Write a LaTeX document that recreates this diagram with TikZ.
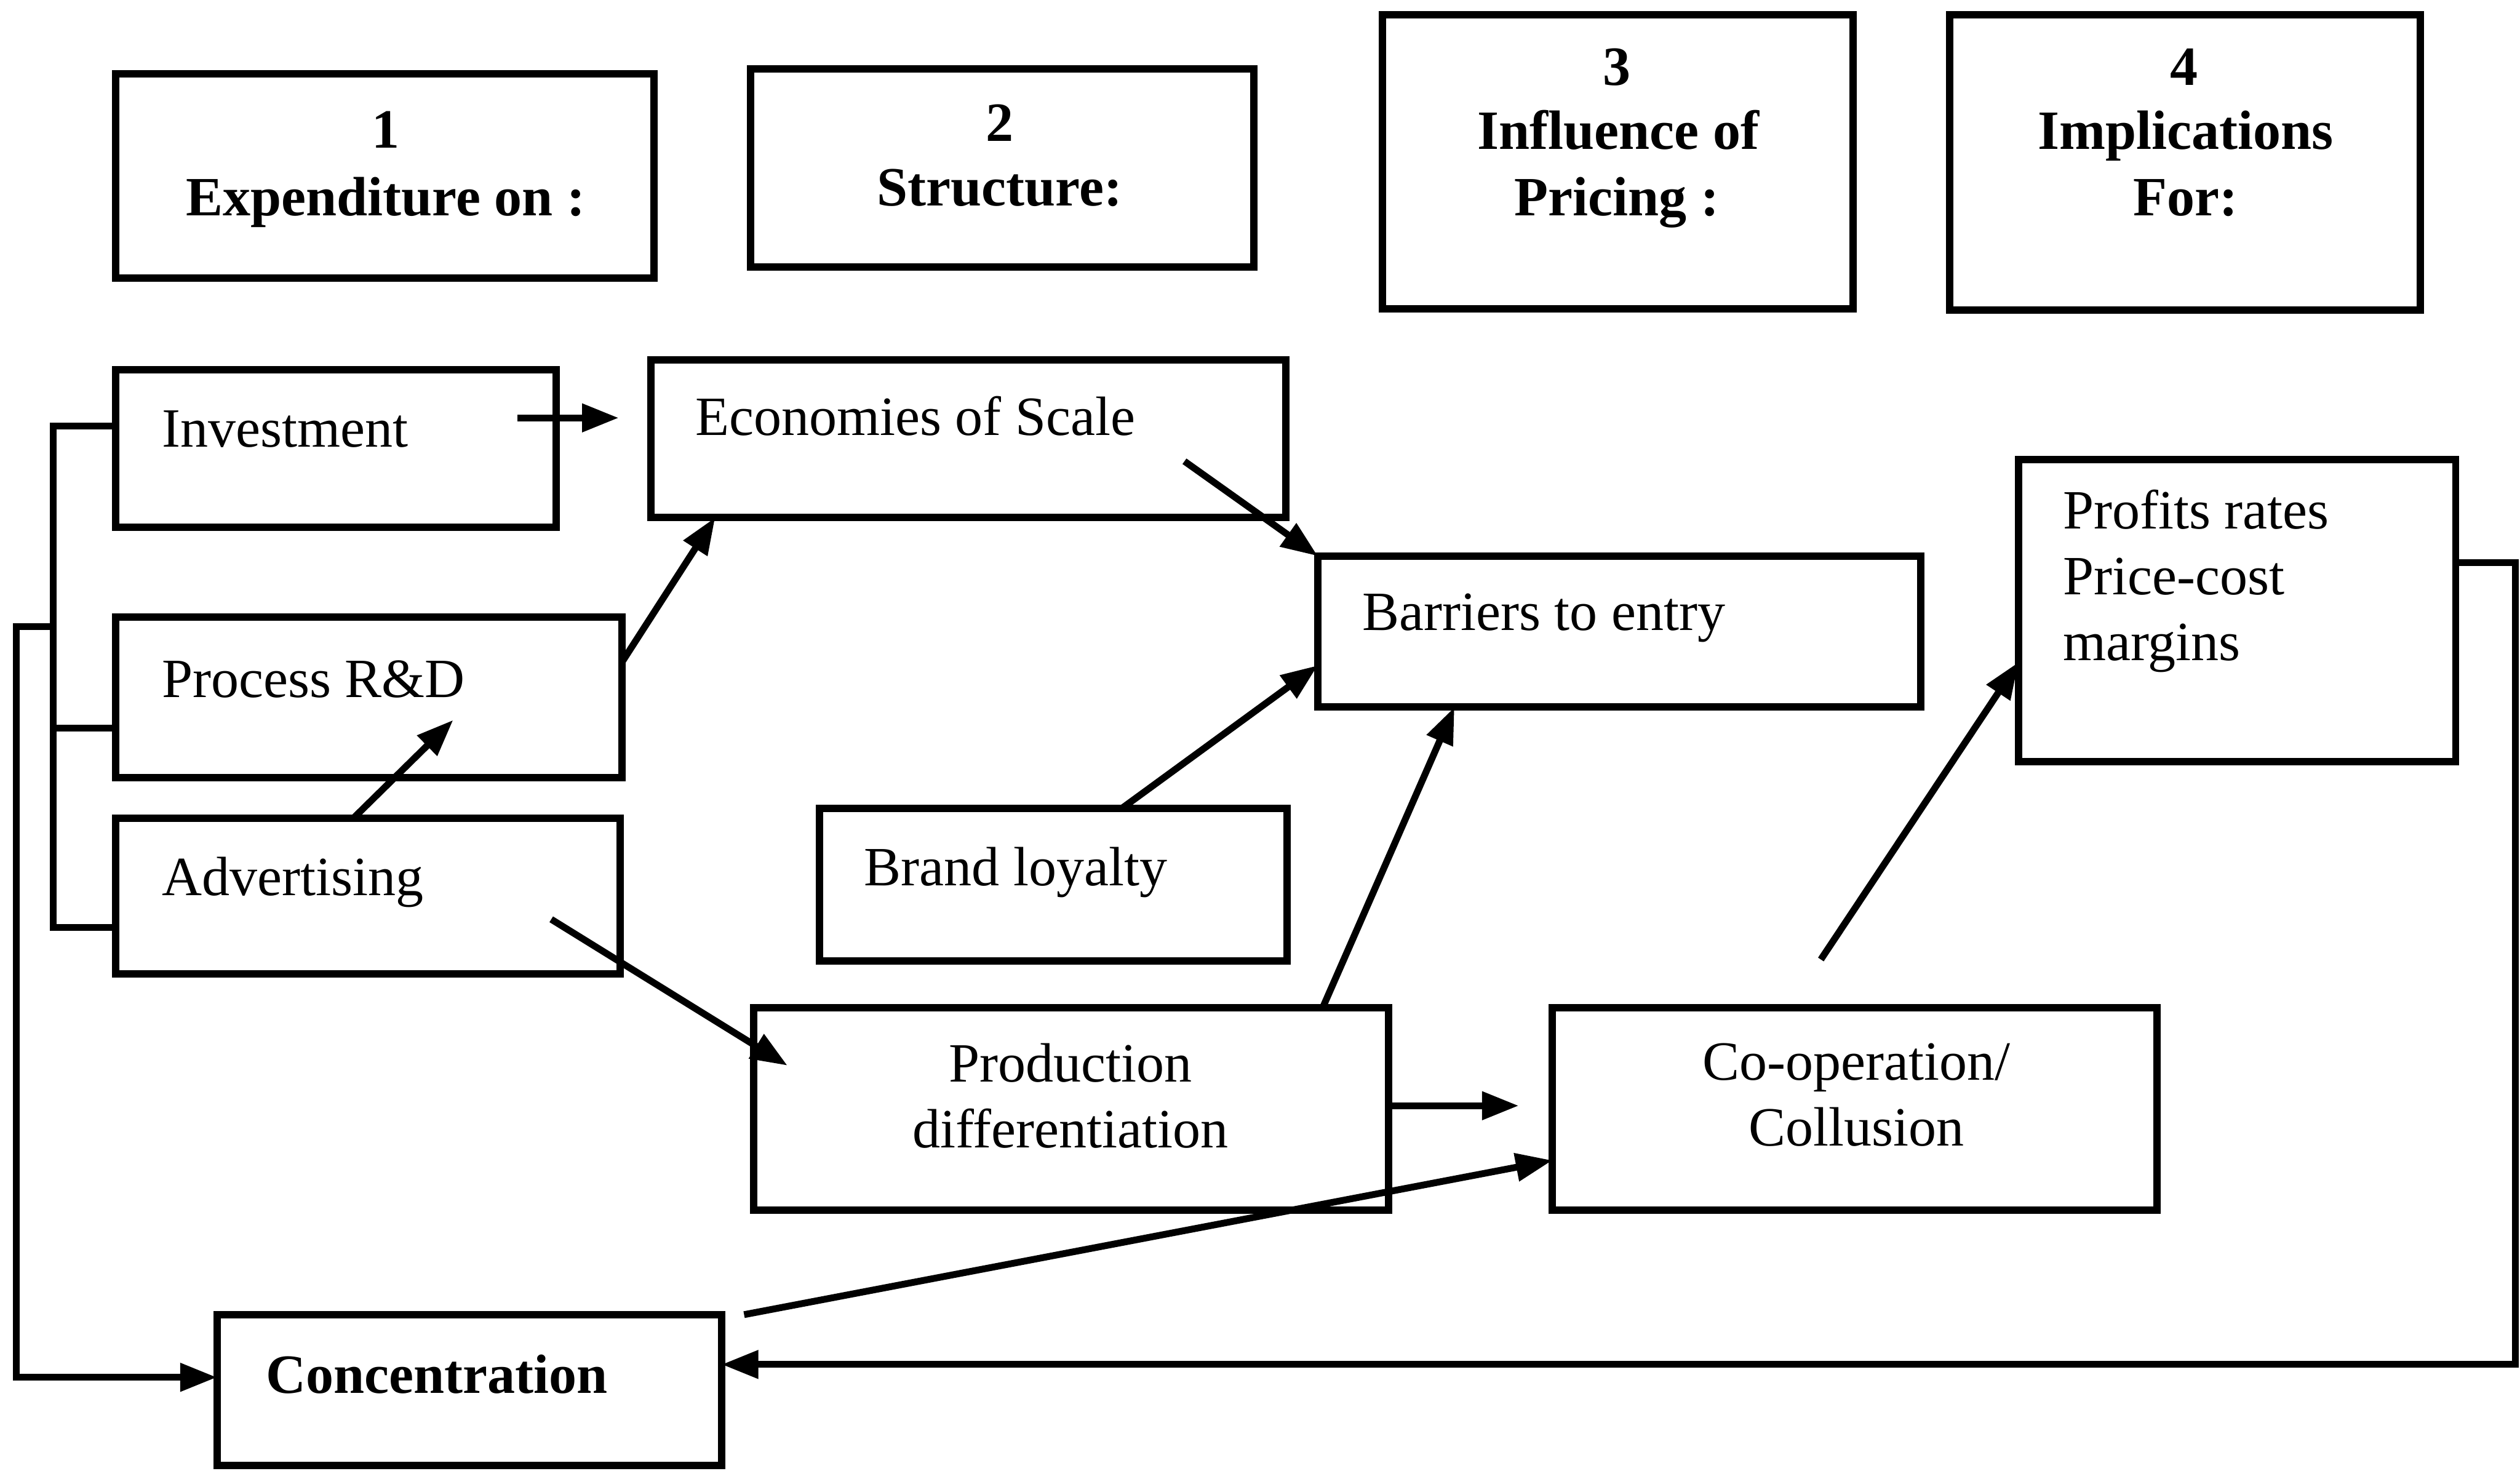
\documentclass[tikz,border=0pt]{standalone}
\usepackage{fontspec}
\setmainfont{Liberation Serif}
\usetikzlibrary{arrows.meta,calc}
\tikzset{
  boxst/.style={draw, line width=1.3pt, inner sep=0pt, outer sep=0pt},
  lbl/.style={inner sep=0pt, anchor=base west, font=\fontsize{9.8}{11.6}\selectfont},
  clbl/.style={inner sep=0pt, anchor=base, font=\fontsize{9.8}{11.6}\selectfont},
  hlbl/.style={inner sep=0pt, anchor=base, font=\fontsize{9.8}{11.6}\selectfont\bfseries},
  arr/.style={line width=1.2pt, -{Triangle[length=6.5pt,width=4.8pt]}},
  ln/.style={line width=1.2pt},
}
\newcommand\mkbox[5]{\node[boxst, minimum width={(#4-#2)*0.01cm}, minimum height={(#5-#3)*0.01cm}] (#1) at ({(#2+#4)/2},{(#3+#5)/2}) {};}
\begin{document}
\begin{tikzpicture}[x=0.01cm, y=-0.01cm]
\useasboundingbox (0,0) rectangle (1568,920);
% header boxes
\mkbox{hone}{72}{46}{407}{173}
\mkbox{htwo}{467}{43}{780}{166}
\mkbox{hthree}{860}{9}{1153}{192}
\mkbox{hfour}{1213}{9}{1506}{193}
\node[hlbl] (hone1) at (240,92) {1};
\node[hlbl] (hone2) at (240,134) {Expenditure on :};
\node[hlbl] (htwo1) at (622,88) {2};
\node[hlbl] (htwo2) at (622,128) {Structure:};
\node[hlbl] (hthree1) at (1006,53) {3};
\node[hlbl] (hthree2) at (1007,93) {Influence of};
\node[hlbl] (hthree3) at (1006,134) {Pricing :};
\node[hlbl] (hfour1) at (1359,53) {4};
\node[hlbl] (hfour2) at (1360,93) {Implications};
\node[hlbl] (hfour3) at (1360,134) {For:};
% content boxes
\mkbox{inv}{72}{230}{346}{328}
\mkbox{econ}{405}{224}{800}{322}
\mkbox{proc}{72}{384}{387}{484}
\mkbox{bar}{820}{346}{1195}{440}
\mkbox{adv}{72}{509}{386}{606}
\mkbox{brand}{510}{503}{801}{598}
\mkbox{prof}{1256}{286}{1528}{474}
\mkbox{prod}{469}{627}{864}{753}
\mkbox{coop}{966}{627}{1342}{753}
\mkbox{conc}{135}{818}{449}{912}
\node[lbl] (invt) at (100,278) {Investment};
\node[lbl] (econt) at (432,271) {Economies of Scale};
\node[lbl] (proct) at (100,434) {Process R\&D};
\node[lbl] (bart) at (847,392) {Barriers to entry};
\node[lbl] (advt) at (100,557) {Advertising};
\node[lbl] (brandt) at (537,551) {Brand loyalty};
\node[lbl] (proft1) at (1283,329) {Profits rates};
\node[lbl] (proft2) at (1283,370) {Price-cost};
\node[lbl] (proft3) at (1283,411) {margins};
\node[clbl] (prodt1) at (666,673) {Production};
\node[clbl] (prodt2) at (666,714) {differentiation};
\node[clbl] (coopt1) at (1155,672) {Co-operation/};
\node[clbl] (coopt2) at (1155,713) {Collusion};
\node[lbl, font=\fontsize{9.8}{11.6}\selectfont\bfseries] (conct) at (165,867) {Concentration};
% left bracket
\coordinate (bT) at (33,265);
\coordinate (bM) at (33,453);
\coordinate (bB) at (33,577);
\draw[ln] (inv.west |- bT) -- (bT) -- (bB) -- (adv.west |- bB);
\draw[ln] (bM) -- (proc.west |- bM);
% loop to concentration
\coordinate (lA) at (33,390);
\coordinate (lB) at (10,390);
\coordinate (lC) at (10,857);
\draw[arr] (lA) -- (lB) -- (lC) -- (conc.west |- lC);
% arrows
\coordinate (ia) at (322,260);
\coordinate (ib) at (385,260);
\draw[arr] (ia) -- (ib);
\draw[arr] (proc.east |- 0,412) -- (econ.south -| 445,0);
\coordinate (pe) at (282,448);
\draw[arr] (adv.north -| 220,0) -- (pe);
\coordinate (es) at (737,287);
\draw[arr] (es) -- (bar.north west);
\draw[arr] (brand.north -| 698,0) -- (bar.west |- 0,414);
\coordinate (as) at (343,572);
\coordinate (ae) at (490,663);
\draw[arr] (as) -- (ae);
\draw[arr] (prod.north -| 823,0) -- (bar.south -| 905,0);
\coordinate (pce) at (945,688);
\draw[arr] (prod.east |- 0,688) -- (pce);
\coordinate (cs) at (463,818);
\draw[arr] (cs) -- (coop.west |- 0,722);
\coordinate (cps) at (1133,597);
\draw[arr] (cps) -- (prof.west |- 0,412);
% right loop
\coordinate (rA) at (1565,350);
\coordinate (rB) at (1565,849);
\draw[arr] (prof.east |- rA) -- (rA) -- (rB) -- (conc.east |- rB);
\end{tikzpicture}
\end{document}
